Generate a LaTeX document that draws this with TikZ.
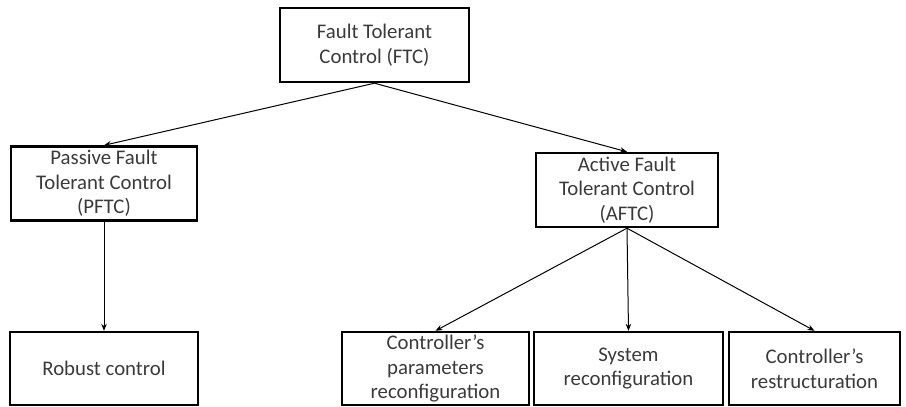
\documentclass[tikz,border=0pt]{standalone}
\usepackage{fontspec}
\setmainfont{Carlito}
\usetikzlibrary{%
  arrows.meta
}
\definecolor{txtgray}{HTML}{3A3A3A}

\begin{document}
\begin{tikzpicture}[x=1pt,y=-1pt,
  box/.style={draw,line width=2.4pt,align=center,inner sep=1pt,text=txtgray,
    minimum height=74pt,font=\fontsize{20.8}{24.5}\selectfont},
  link/.style={-{Stealth[length=7pt,width=5.5pt]},line width=1pt}]
\useasboundingbox (0,0) rectangle (906,407);
%%%root
\node[box,minimum width=189pt] (ftc) at (374.5,45) {Fault Tolerant\\Control (FTC)};
%%%second level
\node[box,minimum width=186pt] (pftc) at (104,183.5) {Passive Fault\\Tolerant Control\\(PFTC)};
\node[box,minimum width=182pt] (aftc) at (627,190) {Active Fault\\Tolerant Control\\(AFTC)};
%%%leaves
\node[box,minimum width=188pt,minimum height=73pt] (robust) at (104,368.5) {Robust control};
\node[box,minimum width=187pt,minimum height=73pt] (param) at (435.5,368.5) {Controller’s\\parameters\\reconfiguration};
\node[box,minimum width=189pt,minimum height=73pt] (sysrec) at (628.5,368.5) {System\\reconfiguration};
\node[box,minimum width=171pt,minimum height=73pt] (restr) at (814.5,368.5) {Controller’s\\restructuration};
%%%links
\draw[link] (ftc.south) -- (pftc.north);
\draw[link] (ftc.south) -- (aftc.north);
\draw[link] (pftc.south) -- (robust.north);
\draw[link] (aftc.south) -- (param.north);
\draw[link] (aftc.south) -- (sysrec.north);
\draw[link] (aftc.south) -- (restr.north);
\end{tikzpicture}
\end{document}
